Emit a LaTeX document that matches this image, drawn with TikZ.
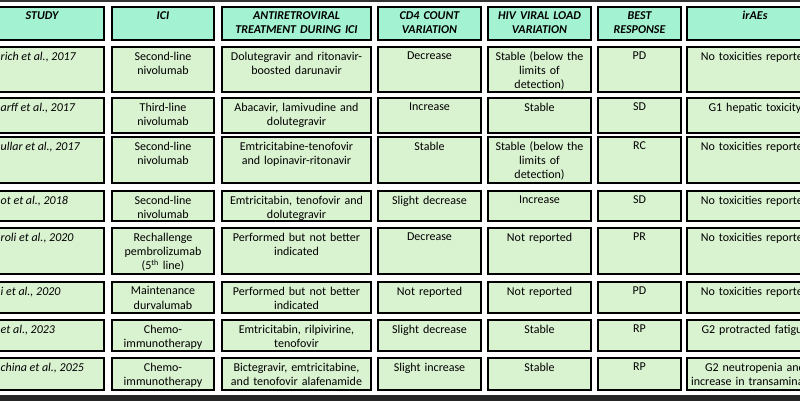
\documentclass[tikz,border=0pt]{standalone}
\usepackage{fontspec}
\setmainfont{Carlito}
\begin{document}
\definecolor{hdr}{HTML}{A3F2D2}
\definecolor{cel}{HTML}{D9F2D0}
\begin{tikzpicture}[x=1pt,y=-1pt,
  box/.style={draw=black,line width=1.6pt},
  txt/.style={anchor=north,align=center,inner sep=0pt,font=\fontsize{12}{14.2}\selectfont},
  htxt/.style={txt,font=\fontsize{12}{14.2}\selectfont\bfseries\itshape}]
\useasboundingbox (0,0) rectangle (800,400);
\clip (0,0) rectangle (800,400);
\fill[white] (0,0) rectangle (800,400);
\fill[black!80] (-5,-5) rectangle (805,1.5);
\fill[black!85] (-5,395) rectangle (805,405);
\newcommand\cellbox[7]{% name x1 x2 y1 y2 fill text
  \draw[box,fill=#6] (#2,#4) rectangle (#3,#5);
  \pgfmathsetmacro\tw{#3-#2-4}
  \node[txt,text width=\tw pt] (#1) at ({(#2+#3)/2},{#4+4.5}) {#7};}
\newcommand\hdrbox[6]{%
  \draw[box,fill=hdr] (#2,#4) rectangle (#3,#5);
  \pgfmathsetmacro\tw{#3-#2-4}
  \node[htxt,text width=\tw pt] (#1) at ({(#2+#3)/2},{#4+4}) {#6};}
% headers
\hdrbox{h1}{-20}{104}{7}{40}{STUDY}
\hdrbox{h2}{112}{214}{7}{40}{ICI}
\hdrbox{h3}{222}{371}{7}{40}{ANTIRETROVIRAL\\TREATMENT DURING ICI}
\hdrbox{h4}{378}{481}{7}{40}{CD4 COUNT\\VARIATION}
\hdrbox{h5}{488}{591}{7}{40}{HIV VIRAL LOAD\\VARIATION}
\hdrbox{h6}{598}{681}{7}{40}{BEST\\RESPONSE}
\hdrbox{h7}{687}{823}{7}{40}{irAEs}
% rows
\newcommand\row[9]{% r y1 y2 study ici art cd4 hiv best
  \draw[box,fill=cel] (-20,#2) rectangle (104,#3);
  \node[txt,anchor=north west,font=\fontsize{12}{14.2}\selectfont\itshape] (s#1) at (0.5,{#2+4.5}) {#4};
  \cellbox{i#1}{112}{214}{#2}{#3}{cel}{#5}
  \cellbox{a#1}{222}{371}{#2}{#3}{cel}{#6}
  \cellbox{c#1}{378}{481}{#2}{#3}{cel}{#7}
  \cellbox{v#1}{488}{591}{#2}{#3}{cel}{#8}
  \cellbox{b#1}{598}{681}{#2}{#3}{cel}{#9}}
\row{1}{47}{92}{rich et al., 2017}{Second-line\\nivolumab}{Dolutegravir and ritonavir-\\boosted darunavir}{Decrease}{Stable (below the\\limits of\\detection)}{PD}
\cellbox{t1}{687}{823}{47}{92}{cel}{No toxicities reported}
\row{2}{98}{133}{arff et al., 2017}{Third-line\\nivolumab}{Abacavir, lamivudine and\\dolutegravir}{Increase}{Stable}{SD}
\cellbox{t2}{687}{823}{98}{133}{cel}{G1 hepatic toxicity}
\row{3}{137}{183}{ullar et al., 2017}{Second-line\\nivolumab}{Emtricitabine-tenofovir\\and lopinavir-ritonavir}{Stable}{Stable (below the\\limits of\\detection)}{RC}
\cellbox{t3}{687}{823}{137}{183}{cel}{No toxicities reported}
\row{4}{191}{221}{ot et al., 2018}{Second-line\\nivolumab}{Emtricitabin, tenofovir and\\dolutegravir}{Slight decrease}{Increase}{SD}
\cellbox{t4}{687}{823}{191}{221}{cel}{No toxicities reported}
\row{5}{228}{274}{roli et al., 2020}{Rechallenge\\pembrolizumab\\(5\textsuperscript{th} line)}{Performed but not better\\indicated}{Decrease}{Not reported}{PR}
\cellbox{t5}{687}{823}{228}{274}{cel}{No toxicities reported}
\row{6}{282}{313}{i et al., 2020}{Maintenance\\durvalumab}{Performed but not better\\indicated}{Not reported}{Not reported}{PD}
\cellbox{t6}{687}{823}{282}{313}{cel}{No toxicities reported}
\row{7}{320}{351}{et al., 2023}{Chemo-\\immunotherapy}{Emtricitabin, rilpivirine,\\tenofovir}{Slight decrease}{Stable}{RP}
\cellbox{t7}{687}{823}{320}{351}{cel}{G2 protracted fatigue}
\row{8}{358}{390}{china et al., 2025}{Chemo-\\immunotherapy}{Bictegravir, emtricitabine,\\and tenofovir alafenamide}{Slight increase}{Stable}{RP}
\cellbox{t8}{687}{823}{358}{390}{cel}{G2 neutropenia and\\increase in transaminases}
\end{tikzpicture}
\end{document}
